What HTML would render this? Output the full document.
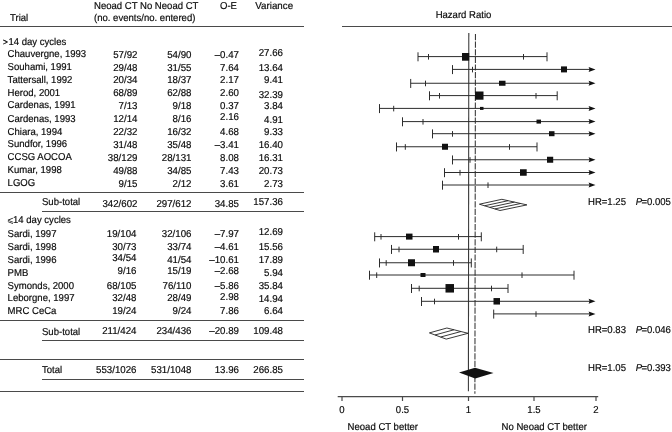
<!DOCTYPE html>
<html lang="en"><head><meta charset="utf-8"><title>Forest plot</title>
<style>
html,body{margin:0;padding:0;background:#fff;}
body{width:672px;height:432px;overflow:hidden;}
svg{display:block;will-change:transform;}
text{font-family:"Liberation Sans",sans-serif;font-size:10px;fill:#0a0a0a;text-rendering:geometricPrecision;stroke:#0a0a0a;stroke-width:0.18px;}
.r{text-anchor:end;}.m{text-anchor:middle;}.i{font-style:italic;}
.l{stroke:#4a4a4a;stroke-width:1.2;fill:none;}
.t{stroke:#2c2c2c;stroke-width:1;fill:none;}
.b{fill:#111;}
</style></head><body>
<svg width="672" height="432" viewBox="0 0 672 432">
<rect width="672" height="432" fill="#fff"/>
<text transform="translate(94 9.4) scale(0.955 1)">Neoad CT No Neoad CT</text>
<text transform="translate(94 21.4) scale(0.955 1)">(no. events/no. entered)</text>
<text transform="translate(10 21.0) scale(0.955 1)">Trial</text>
<text transform="translate(220 9.4) scale(0.955 1)">O-E</text>
<text transform="translate(255.3 9.4) scale(0.975 1)">Variance</text>
<text transform="translate(463.5 17.9) scale(0.955 1)" class="m">Hazard Ratio</text>
<line class="l" x1="0" y1="26.5" x2="304" y2="26.5"/>
<line class="l" x1="342" y1="26.5" x2="672" y2="26.5"/>
<line class="l" x1="0" y1="192.5" x2="304" y2="192.5"/>
<line class="l" x1="42" y1="211.5" x2="304" y2="211.5"/>
<line class="l" x1="0" y1="320.5" x2="304" y2="320.5"/>
<line class="l" x1="42" y1="340.5" x2="304" y2="340.5"/>
<line class="l" x1="0" y1="359.5" x2="304" y2="359.5"/>
<line class="l" x1="42" y1="379.5" x2="304" y2="379.5"/>
<line class="l" x1="0" y1="391.5" x2="304" y2="391.5"/>
<text transform="translate(2.9 44.7) scale(0.92 1)" style="font-size:9px;stroke-width:0.3px">&gt;</text>
<text transform="translate(8.4 44.9) scale(0.955 1)">14 day cycles</text>
<text transform="translate(7.6 57.2) scale(0.955 1)">Chauvergne, 1993</text>
<text transform="translate(137.5 57.7) scale(0.97 1)" class="r">57/92</text>
<text transform="translate(191.5 57.7) scale(0.97 1)" class="r">54/90</text>
<text transform="translate(239 58.0) scale(0.97 1)" class="r">–0.47</text>
<text transform="translate(283 55.9) scale(0.97 1)" class="r">27.66</text>
<text transform="translate(7.6 70.1) scale(0.955 1)">Souhami, 1991</text>
<text transform="translate(137.5 70.6) scale(0.97 1)" class="r">29/48</text>
<text transform="translate(191.5 70.6) scale(0.97 1)" class="r">31/55</text>
<text transform="translate(239 70.6) scale(0.97 1)" class="r">7.64</text>
<text transform="translate(283 70.6) scale(0.97 1)" class="r">13.64</text>
<text transform="translate(7.6 82.8) scale(0.955 1)">Tattersall, 1992</text>
<text transform="translate(137.5 83.3) scale(0.97 1)" class="r">20/34</text>
<text transform="translate(191.5 83.3) scale(0.97 1)" class="r">18/37</text>
<text transform="translate(239 83.3) scale(0.97 1)" class="r">2.17</text>
<text transform="translate(283 83.3) scale(0.97 1)" class="r">9.41</text>
<text transform="translate(7.6 95.8) scale(0.955 1)">Herod, 2001</text>
<text transform="translate(137.5 96.3) scale(0.97 1)" class="r">68/89</text>
<text transform="translate(191.5 96.3) scale(0.97 1)" class="r">62/88</text>
<text transform="translate(239 96.3) scale(0.97 1)" class="r">2.60</text>
<text transform="translate(283 97.5) scale(0.97 1)" class="r">32.39</text>
<text transform="translate(7.6 108.1) scale(0.955 1)">Cardenas, 1991</text>
<text transform="translate(137.5 108.6) scale(0.97 1)" class="r">7/13</text>
<text transform="translate(191.5 108.6) scale(0.97 1)" class="r">9/18</text>
<text transform="translate(239 108.6) scale(0.97 1)" class="r">0.37</text>
<text transform="translate(283 108.6) scale(0.97 1)" class="r">3.84</text>
<text transform="translate(7.6 121.9) scale(0.955 1)">Cardenas, 1993</text>
<text transform="translate(137.5 122.4) scale(0.97 1)" class="r">12/14</text>
<text transform="translate(191.5 122.4) scale(0.97 1)" class="r">8/16</text>
<text transform="translate(239 120.4) scale(0.97 1)" class="r">2.16</text>
<text transform="translate(283 122.9) scale(0.97 1)" class="r">4.91</text>
<text transform="translate(7.6 134.5) scale(0.955 1)">Chiara, 1994</text>
<text transform="translate(137.5 135.0) scale(0.97 1)" class="r">22/32</text>
<text transform="translate(191.5 135.0) scale(0.97 1)" class="r">16/32</text>
<text transform="translate(239 135.0) scale(0.97 1)" class="r">4.68</text>
<text transform="translate(283 135.0) scale(0.97 1)" class="r">9.33</text>
<text transform="translate(7.6 147.1) scale(0.955 1)">Sundfor, 1996</text>
<text transform="translate(137.5 147.6) scale(0.97 1)" class="r">31/48</text>
<text transform="translate(191.5 147.6) scale(0.97 1)" class="r">35/48</text>
<text transform="translate(239 147.6) scale(0.97 1)" class="r">–3.41</text>
<text transform="translate(283 147.6) scale(0.97 1)" class="r">16.40</text>
<text transform="translate(7.6 160.1) scale(0.955 1)">CCSG AOCOA</text>
<text transform="translate(137.5 160.6) scale(0.97 1)" class="r">38/129</text>
<text transform="translate(191.5 160.6) scale(0.97 1)" class="r">28/131</text>
<text transform="translate(239 160.6) scale(0.97 1)" class="r">8.08</text>
<text transform="translate(283 160.6) scale(0.97 1)" class="r">16.31</text>
<text transform="translate(7.6 173.1) scale(0.955 1)">Kumar, 1998</text>
<text transform="translate(137.5 173.6) scale(0.97 1)" class="r">49/88</text>
<text transform="translate(191.5 173.6) scale(0.97 1)" class="r">34/85</text>
<text transform="translate(239 173.6) scale(0.97 1)" class="r">7.43</text>
<text transform="translate(283 173.6) scale(0.97 1)" class="r">20.73</text>
<text transform="translate(7.6 186.1) scale(0.955 1)">LGOG</text>
<text transform="translate(137.5 186.6) scale(0.97 1)" class="r">9/15</text>
<text transform="translate(191.5 186.6) scale(0.97 1)" class="r">2/12</text>
<text transform="translate(239 186.6) scale(0.97 1)" class="r">3.61</text>
<text transform="translate(283 186.6) scale(0.97 1)" class="r">2.73</text>
<text transform="translate(42 204.6) scale(0.955 1)">Sub-total</text>
<text transform="translate(137.5 206.7) scale(0.97 1)" class="r">342/602</text>
<text transform="translate(191.5 206.7) scale(0.97 1)" class="r">297/612</text>
<text transform="translate(239 206.7) scale(0.97 1)" class="r">34.85</text>
<text transform="translate(283 204.8) scale(0.97 1)" class="r">157.36</text>
<text transform="translate(7.0 223.1) scale(0.9 1)" style="font-size:9px;stroke:none;font-family:'DejaVu Sans',sans-serif">⩽</text>
<text transform="translate(13.0 223.4) scale(0.955 1)">14 day cycles</text>
<text transform="translate(7.6 236.7) scale(0.955 1)">Sardi, 1997</text>
<text transform="translate(136.5 237.4) scale(0.97 1)" class="r">19/104</text>
<text transform="translate(191.5 237.4) scale(0.97 1)" class="r">32/106</text>
<text transform="translate(239 237.4) scale(0.97 1)" class="r">–7.97</text>
<text transform="translate(283 235.4) scale(0.97 1)" class="r">12.69</text>
<text transform="translate(7.6 249.7) scale(0.955 1)">Sardi, 1998</text>
<text transform="translate(136.5 250.4) scale(0.97 1)" class="r">30/73</text>
<text transform="translate(191.5 250.4) scale(0.97 1)" class="r">33/74</text>
<text transform="translate(239 250.4) scale(0.97 1)" class="r">–4.61</text>
<text transform="translate(283 250.4) scale(0.97 1)" class="r">15.56</text>
<text transform="translate(7.6 262.5) scale(0.955 1)">Sardi, 1996</text>
<text transform="translate(136.5 260.8) scale(0.97 1)" class="r">34/54</text>
<text transform="translate(191.5 263.0) scale(0.97 1)" class="r">41/54</text>
<text transform="translate(239 263.0) scale(0.97 1)" class="r">–10.61</text>
<text transform="translate(283 263.0) scale(0.97 1)" class="r">17.89</text>
<text transform="translate(7.6 276.4) scale(0.955 1)">PMB</text>
<text transform="translate(136.5 274.2) scale(0.97 1)" class="r">9/16</text>
<text transform="translate(191.5 274.4) scale(0.97 1)" class="r">15/19</text>
<text transform="translate(239 274.4) scale(0.97 1)" class="r">–2.68</text>
<text transform="translate(283 276.4) scale(0.97 1)" class="r">5.94</text>
<text transform="translate(7.6 288.5) scale(0.955 1)">Symonds, 2000</text>
<text transform="translate(136.5 288.5) scale(0.97 1)" class="r">68/105</text>
<text transform="translate(191.5 288.5) scale(0.97 1)" class="r">76/110</text>
<text transform="translate(239 288.5) scale(0.97 1)" class="r">–5.86</text>
<text transform="translate(283 288.5) scale(0.97 1)" class="r">35.84</text>
<text transform="translate(7.6 300.8) scale(0.955 1)">Leborgne, 1997</text>
<text transform="translate(136.5 300.6) scale(0.97 1)" class="r">32/48</text>
<text transform="translate(191.5 300.6) scale(0.97 1)" class="r">28/49</text>
<text transform="translate(239 300.2) scale(0.97 1)" class="r">2.98</text>
<text transform="translate(283 302.1) scale(0.97 1)" class="r">14.94</text>
<text transform="translate(7.6 313.6) scale(0.955 1)">MRC CeCa</text>
<text transform="translate(136.5 313.6) scale(0.97 1)" class="r">19/24</text>
<text transform="translate(191.5 313.6) scale(0.97 1)" class="r">9/24</text>
<text transform="translate(239 313.6) scale(0.97 1)" class="r">7.86</text>
<text transform="translate(283 313.6) scale(0.97 1)" class="r">6.64</text>
<text transform="translate(42 334.9) scale(0.955 1)">Sub-total</text>
<text transform="translate(136.5 333.9) scale(0.97 1)" class="r">211/424</text>
<text transform="translate(191.5 333.9) scale(0.97 1)" class="r">234/436</text>
<text transform="translate(239 333.9) scale(0.97 1)" class="r">–20.89</text>
<text transform="translate(283 333.9) scale(0.97 1)" class="r">109.48</text>
<text transform="translate(42 372.9) scale(0.955 1)">Total</text>
<text transform="translate(136.5 372.9) scale(0.97 1)" class="r">553/1026</text>
<text transform="translate(191.5 372.9) scale(0.97 1)" class="r">531/1048</text>
<text transform="translate(239 372.9) scale(0.97 1)" class="r">13.96</text>
<text transform="translate(283 372.9) scale(0.97 1)" class="r">266.85</text>
<line x1="468.8" y1="33" x2="468.4" y2="391.2" stroke="#3a3a3a" stroke-width="1.1"/>
<line x1="475.45" y1="34" x2="474.9" y2="393.7" stroke="#333" stroke-width="1.05" stroke-dasharray="6.2 1.4"/>
<line class="l" x1="337.7" y1="396.6" x2="598.2" y2="396.6"/>
<line class="l" x1="342" y1="396.5" x2="342" y2="401"/>
<line class="l" x1="402.5" y1="396.5" x2="402.5" y2="401"/>
<line class="l" x1="468.5" y1="396.5" x2="468.5" y2="401"/>
<line class="l" x1="534" y1="396.5" x2="534" y2="401"/>
<line class="l" x1="596" y1="396.5" x2="596" y2="401"/>
<text transform="translate(342 412.9) scale(0.955 1)" class="m">0</text>
<text transform="translate(402.5 412.9) scale(0.955 1)" class="m">0.5</text>
<text transform="translate(468.5 412.9) scale(0.955 1)" class="m">1</text>
<text transform="translate(534 412.9) scale(0.955 1)" class="m">1.5</text>
<text transform="translate(596 412.9) scale(0.955 1)" class="m">2</text>
<text transform="translate(347.6 429.9) scale(0.955 1)">Neoad CT better</text>
<text transform="translate(501.6 429.9) scale(0.955 1)">No Neoad CT better</text>
<line class="t" x1="418" y1="56.6" x2="547" y2="56.6"/>
<line class="t" x1="418" y1="52.300000000000004" x2="418" y2="61.300000000000004"/>
<line class="t" x1="428.5" y1="54.0" x2="428.5" y2="59.6"/>
<line class="t" x1="523.5" y1="54.0" x2="523.5" y2="59.6"/>
<line class="t" x1="547" y1="52.300000000000004" x2="547" y2="61.300000000000004"/>
<rect class="b" x="462" y="53.0" width="7.2" height="7.7"/>
<line class="t" x1="452.5" y1="69.4" x2="590" y2="69.4"/>
<line class="t" x1="452.5" y1="65.10000000000001" x2="452.5" y2="74.10000000000001"/>
<line class="t" x1="472.5" y1="66.80000000000001" x2="472.5" y2="72.4"/>
<path class="b" d="M595.5 69.4 L588.6 66.9 L589.6 69.4 L588.6 71.9 Z"/>
<rect class="b" x="561" y="66.4" width="6" height="6"/>
<line class="t" x1="410.7" y1="83.25" x2="590" y2="83.25"/>
<line class="t" x1="410.7" y1="78.95" x2="410.7" y2="87.95"/>
<line class="t" x1="425.5" y1="80.65" x2="425.5" y2="86.25"/>
<path class="b" d="M595.5 83.25 L588.6 80.75 L589.6 83.25 L588.6 85.75 Z"/>
<rect class="b" x="499" y="80.75" width="6.5" height="5"/>
<line class="t" x1="429.5" y1="95.6" x2="557.2" y2="95.6"/>
<line class="t" x1="429.5" y1="91.3" x2="429.5" y2="100.3"/>
<line class="t" x1="439.5" y1="93.0" x2="439.5" y2="98.6"/>
<line class="t" x1="536" y1="93.0" x2="536" y2="98.6"/>
<line class="t" x1="557.2" y1="91.3" x2="557.2" y2="100.3"/>
<rect class="b" x="475" y="91.5" width="8.5" height="8.2"/>
<line class="t" x1="379.5" y1="108.4" x2="590" y2="108.4"/>
<line class="t" x1="379.5" y1="104.10000000000001" x2="379.5" y2="113.10000000000001"/>
<line class="t" x1="393.7" y1="105.80000000000001" x2="393.7" y2="111.4"/>
<path class="b" d="M595.5 108.4 L588.6 105.9 L589.6 108.4 L588.6 110.9 Z"/>
<rect class="b" x="480" y="106.9" width="3.5" height="3"/>
<line class="t" x1="402.5" y1="121.6" x2="590" y2="121.6"/>
<line class="t" x1="402.5" y1="117.3" x2="402.5" y2="126.3"/>
<line class="t" x1="423" y1="119.0" x2="423" y2="124.6"/>
<path class="b" d="M595.5 121.6 L588.6 119.1 L589.6 121.6 L588.6 124.1 Z"/>
<rect class="b" x="536.5" y="119.6" width="4.5" height="4"/>
<line class="t" x1="432.5" y1="133.7" x2="590" y2="133.7"/>
<line class="t" x1="432.5" y1="129.39999999999998" x2="432.5" y2="138.39999999999998"/>
<line class="t" x1="452.5" y1="131.1" x2="452.5" y2="136.7"/>
<path class="b" d="M595.5 133.7 L588.6 131.2 L589.6 133.7 L588.6 136.2 Z"/>
<rect class="b" x="549" y="131.2" width="5.5" height="5"/>
<line class="t" x1="396.5" y1="146.75" x2="537" y2="146.75"/>
<line class="t" x1="396.5" y1="142.45" x2="396.5" y2="151.45"/>
<line class="t" x1="405.3" y1="144.15" x2="405.3" y2="149.75"/>
<line class="t" x1="509.5" y1="144.15" x2="509.5" y2="149.75"/>
<line class="t" x1="537" y1="142.45" x2="537" y2="151.45"/>
<rect class="b" x="442" y="143.75" width="6" height="6"/>
<line class="t" x1="452.5" y1="159.75" x2="590" y2="159.75"/>
<line class="t" x1="452.5" y1="155.45" x2="452.5" y2="164.45"/>
<line class="t" x1="470" y1="157.15" x2="470" y2="162.75"/>
<path class="b" d="M595.5 159.75 L588.6 157.25 L589.6 159.75 L588.6 162.25 Z"/>
<rect class="b" x="547" y="156.75" width="6.2" height="6"/>
<line class="t" x1="444.5" y1="172.5" x2="590" y2="172.5"/>
<line class="t" x1="444.5" y1="168.2" x2="444.5" y2="177.2"/>
<line class="t" x1="460" y1="169.9" x2="460" y2="175.5"/>
<path class="b" d="M595.5 172.5 L588.6 170.0 L589.6 172.5 L588.6 175.0 Z"/>
<rect class="b" x="520" y="169.25" width="6.7" height="6.5"/>
<line class="t" x1="442.5" y1="185.0" x2="590" y2="185.0"/>
<line class="t" x1="442.5" y1="180.7" x2="442.5" y2="189.7"/>
<line class="t" x1="488" y1="182.4" x2="488" y2="188.0"/>
<path class="b" d="M595.5 185.0 L588.6 182.5 L589.6 185.0 L588.6 187.5 Z"/>
<line class="t" x1="374.7" y1="236.6" x2="481.3" y2="236.6"/>
<line class="t" x1="374.7" y1="232.29999999999998" x2="374.7" y2="241.29999999999998"/>
<line class="t" x1="381" y1="234.0" x2="381" y2="239.6"/>
<line class="t" x1="458.5" y1="234.0" x2="458.5" y2="239.6"/>
<line class="t" x1="481.3" y1="232.29999999999998" x2="481.3" y2="241.29999999999998"/>
<rect class="b" x="406" y="233.6" width="6.5" height="6"/>
<line class="t" x1="391.5" y1="249.25" x2="523.2" y2="249.25"/>
<line class="t" x1="391.5" y1="244.95" x2="391.5" y2="253.95"/>
<line class="t" x1="399" y1="246.65" x2="399" y2="252.25"/>
<line class="t" x1="496.7" y1="246.65" x2="496.7" y2="252.25"/>
<line class="t" x1="523.2" y1="244.95" x2="523.2" y2="253.95"/>
<rect class="b" x="433" y="246.0" width="6" height="6.5"/>
<line class="t" x1="379.5" y1="262.75" x2="471.3" y2="262.75"/>
<line class="t" x1="379.5" y1="258.45" x2="379.5" y2="267.45"/>
<line class="t" x1="386.2" y1="260.15" x2="386.2" y2="265.75"/>
<line class="t" x1="453.5" y1="260.15" x2="453.5" y2="265.75"/>
<line class="t" x1="471.3" y1="258.45" x2="471.3" y2="267.45"/>
<rect class="b" x="408" y="259.25" width="7" height="7"/>
<line class="t" x1="369.5" y1="275.0" x2="574" y2="275.0"/>
<line class="t" x1="369.5" y1="270.7" x2="369.5" y2="279.7"/>
<line class="t" x1="376.7" y1="272.4" x2="376.7" y2="278.0"/>
<line class="t" x1="522" y1="272.4" x2="522" y2="278.0"/>
<line class="t" x1="574" y1="270.7" x2="574" y2="279.7"/>
<rect class="b" x="420.5" y="273.0" width="5.0" height="4"/>
<line class="t" x1="411.5" y1="288.3" x2="508" y2="288.3"/>
<line class="t" x1="411.5" y1="284.0" x2="411.5" y2="293.0"/>
<line class="t" x1="419.2" y1="285.7" x2="419.2" y2="291.3"/>
<line class="t" x1="491.5" y1="285.7" x2="491.5" y2="291.3"/>
<line class="t" x1="508" y1="284.0" x2="508" y2="293.0"/>
<rect class="b" x="445.5" y="284.05" width="8.5" height="8.5"/>
<line class="t" x1="421.5" y1="301.3" x2="590" y2="301.3"/>
<line class="t" x1="421.5" y1="297.0" x2="421.5" y2="306.0"/>
<line class="t" x1="434.5" y1="298.7" x2="434.5" y2="304.3"/>
<path class="b" d="M595.5 301.3 L588.6 298.8 L589.6 301.3 L588.6 303.8 Z"/>
<rect class="b" x="493.5" y="298.05" width="6.5" height="6.5"/>
<line class="t" x1="493.7" y1="313.9" x2="590" y2="313.9"/>
<line class="t" x1="493.7" y1="309.59999999999997" x2="493.7" y2="318.59999999999997"/>
<line class="t" x1="536" y1="311.29999999999995" x2="536" y2="316.9"/>
<path class="b" d="M595.5 313.9 L588.6 311.4 L589.6 313.9 L588.6 316.4 Z"/>
<polygon points="479.4,204.2 501.9,199.3 526.9,204.9 500,210.5" fill="#fff" stroke="#222" stroke-width="0.9"/>
<line x1="484.55" y1="205.77" x2="508.15" y2="200.70" stroke="#222" stroke-width="0.9"/>
<line x1="489.70" y1="207.35" x2="514.40" y2="202.10" stroke="#222" stroke-width="0.9"/>
<line x1="494.85" y1="208.93" x2="520.65" y2="203.50" stroke="#222" stroke-width="0.9"/>
<polygon points="429.4,332.9 446.9,328.0 468.1,333.3 446.2,339.1" fill="#fff" stroke="#222" stroke-width="0.9"/>
<line x1="435.00" y1="334.97" x2="453.97" y2="329.77" stroke="#222" stroke-width="0.9"/>
<line x1="440.60" y1="337.03" x2="461.03" y2="331.53" stroke="#222" stroke-width="0.9"/>
<polygon class="b" points="459,372.5 475,367.7 493.5,373 475.2,378.5"/>
<text transform="translate(588 204.9) scale(0.955 1)">HR=1.25</text>
<text transform="translate(635.8 204.9) scale(0.955 1)" class="i">P</text>
<text transform="translate(670.9 204.9) scale(0.955 1)" class="r">=0.005</text>
<text transform="translate(588 332.9) scale(0.955 1)">HR=0.83</text>
<text transform="translate(635.8 332.9) scale(0.955 1)" class="i">P</text>
<text transform="translate(670.9 332.9) scale(0.955 1)" class="r">=0.046</text>
<text transform="translate(588 371.1) scale(0.955 1)">HR=1.05</text>
<text transform="translate(635.8 371.1) scale(0.955 1)" class="i">P</text>
<text transform="translate(670.9 371.1) scale(0.955 1)" class="r">=0.393</text>
</svg></body></html>
